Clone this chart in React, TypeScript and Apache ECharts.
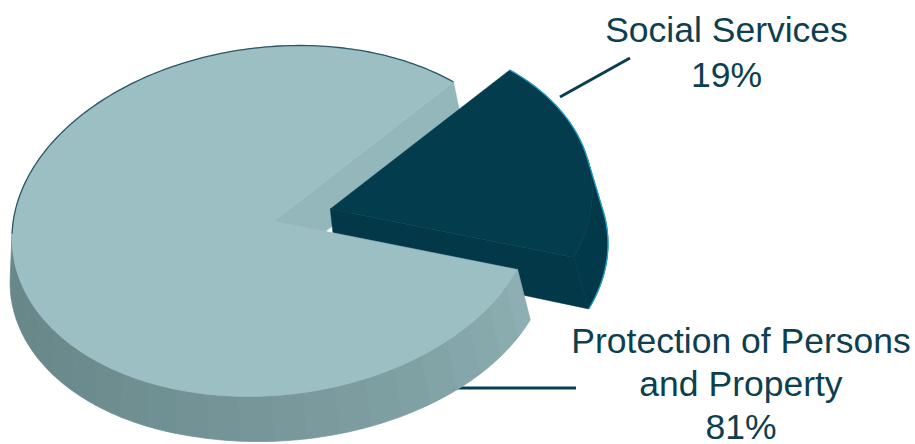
import React, { useEffect, useRef } from "react";
import * as echarts from "echarts";

// ---- data ----
const categories = ["Social Services", "Protection of Persons and Property"];
const labelText = ["Social Services", "Protection of Persons\nand Property"];
const values = [19, 81];

// ---- styling / layout (not data) ----
const TOP_COLORS = ["#023C4D", "#9BBFC2"];
const FACE_COLORS = ["#023847", "#93B7BB"];
const SIDE_DARK = ["#02394A", "#678789"];
const SIDE_LIGHT = ["#02394A", "#93B4B8"];
const OUTLINE = ["#1E9FC8", "#2A5866"];
const SIDE_EDGE = [true, false];
const TEXT_COLOR = "#0D3F4F";
const LEADER_COLOR = "#063F50";
const LAYERS = [
  { face: 12, side: 10, top: 14 },
  { face: 5, side: 20, top: 22 },
];
const CX = 274;
const CY = 221;
const M = [261.8, -10.31, -10.31, 175.2];
const DET = M[0] * M[3] - M[1] * M[2];
const MI = [M[3] / DET, -M[1] / DET, -M[2] / DET, M[0] / DET];
const START_DEG = -49;
const EXPLODE = [0.22, 0];
const BAND_DEG = [720, 7];
const LABEL_POS = [
  [726.5, 52],
  [741, 384],
];
const LABEL_LH = [45, 43];
const LEADERS = [
  [560, 97, 630, 58],
  [441, 388, 576, 388],
];

type Pt = [number, number];

const toScreen = (px: number, py: number): Pt => [
  CX + M[0] * px + M[1] * py,
  CY + M[2] * px + M[3] * py,
];
const depthAt = (p: Pt): Pt => [
  p[0] > 200 ? 0.04 * (p[0] - 200) : 0.01 * (p[0] - 200),
  44 + Math.max(0, 0.02 * (p[0] - 200)),
];
const hexRgb = (h: string) => [
  parseInt(h.slice(1, 3), 16),
  parseInt(h.slice(3, 5), 16),
  parseInt(h.slice(5, 7), 16),
];
const mix = (a: string, b: string, f: number) => {
  const A = hexRgb(a);
  const B = hexRgb(b);
  const c = A.map((v, k) => Math.round(v + (B[k] - v) * f));
  return `rgb(${c[0]},${c[1]},${c[2]})`;
};
const add = (p: Pt, d: Pt): Pt => [p[0] + d[0], p[1] + d[1]];

function renderItem(params: any, _api: any) {
  const i = params.dataIndex;
  const total = values.reduce((a, b) => a + b, 0);
  let before = 0;
  for (let k = 0; k < i; k++) before += values[k];
  const a0 = START_DEG + (360 * before) / total;
  const a1 = a0 + (360 * values[i]) / total;
  const midR = (((a0 + a1) / 2) * Math.PI) / 180;
  const ox = EXPLODE[i] * Math.cos(midR);
  const oy = EXPLODE[i] * Math.sin(midR);
  const P = (deg: number, r: number): Pt => {
    const t = (deg * Math.PI) / 180;
    return toScreen(r * Math.cos(t) + ox, r * Math.sin(t) + oy);
  };
  const L = LAYERS[i];
  const children: any[] = [];
  const apex = P(0, 0);

  const n = Math.max(2, Math.ceil(a1 - a0));
  const arc: Pt[] = [];
  const angs: number[] = [];
  for (let k = 0; k <= n; k++) {
    const a = a0 + ((a1 - a0) * k) / n;
    angs.push(a);
    arc.push(P(a, 1));
  }

  // visibility of the outer side per segment
  const vis: boolean[] = [];
  for (let k = 0; k < n; k++) {
    const p1 = arc[k];
    const p2 = arc[k + 1];
    const m: Pt = [(p1[0] + p2[0]) / 2, (p1[1] + p2[1]) / 2];
    const d = depthAt(m);
    const tx = p2[0] - p1[0];
    const ty = p2[1] - p1[1];
    vis.push(ty * d[0] - tx * d[1] > 0);
  }

  // outer side, merged into shading bands
  const shadeFor = (deg: number) => {
    const am = (deg * Math.PI) / 180;
    const nx0 = MI[0] * Math.cos(am) + MI[2] * Math.sin(am);
    const ny0 = MI[1] * Math.cos(am) + MI[3] * Math.sin(am);
    const nx = nx0 / Math.hypot(nx0, ny0);
    const f = Math.pow((nx + 1) / 2, 1.6);
    return mix(SIDE_DARK[i], SIDE_LIGHT[i], f);
  };
  let k = 0;
  while (k < n) {
    if (!vis[k]) {
      k++;
      continue;
    }
    const band = Math.floor((angs[k] + 360) / BAND_DEG[i]);
    const startK = k;
    while (k < n && vis[k] && Math.floor((angs[k] + 360) / BAND_DEG[i]) === band) k++;
    const tops = arc.slice(startK, k + 1);
    const bots = tops.map((p) => add(p, depthAt(p))).reverse();
    const col = shadeFor((angs[startK] + angs[k]) / 2);
    children.push({
      type: "polygon",
      z2: L.side,
      shape: { points: [...tops, ...bots] },
      style: { fill: col, stroke: col, lineWidth: 0.8 },
    });
  }

  // radial faces
  const edges: [number, number][] = [
    [a0, a0 - 90],
    [a1, a1 + 90],
  ];
  for (const [ea, na] of edges) {
    const nr = (na * Math.PI) / 180;
    const nX = MI[0] * Math.cos(nr) + MI[2] * Math.sin(nr);
    const nY = MI[1] * Math.cos(nr) + MI[3] * Math.sin(nr);
    const dA = depthAt(apex);
    if (nX * dA[0] + nY * dA[1] <= 0) continue;
    const e = P(ea, 1);
    children.push({
      type: "polygon",
      z2: L.face,
      shape: { points: [apex, e, add(e, depthAt(e)), add(apex, dA)] },
      style: { fill: FACE_COLORS[i], stroke: FACE_COLORS[i], lineWidth: 0.5 },
    });
  }

  // top face
  children.push({
    type: "polygon",
    z2: L.top,
    shape: { points: [apex, ...arc] },
    style: { fill: TOP_COLORS[i], stroke: TOP_COLORS[i], lineWidth: 0.5 },
  });

  // outlines: back arc + (optionally) bottom edge of visible side
  let run: Pt[] = [];
  const flush = () => {
    if (run.length > 1)
      children.push({
        type: "polyline",
        z2: L.top + 1,
        shape: { points: run },
        style: { stroke: OUTLINE[i], lineWidth: 1.3, fill: null },
      });
    run = [];
  };
  for (let s = 0; s < n; s++) {
    if (!vis[s]) {
      if (!run.length) run.push(arc[s]);
      run.push(arc[s + 1]);
    } else if (SIDE_EDGE[i]) {
      if (!run.length) run.push(arc[s]);
      if (run.length === 1 || vis[s - 1] === false) run.push(add(arc[s], depthAt(arc[s])));
      run.push(add(arc[s + 1], depthAt(arc[s + 1])));
    } else {
      flush();
    }
  }
  flush();

  // label + leader
  const pct = Math.round((values[i] / total) * 100);
  const ld = LEADERS[i];
  children.push({
    type: "line",
    z2: 3,
    shape: { x1: ld[0], y1: ld[1], x2: ld[2], y2: ld[3] },
    style: { stroke: LEADER_COLOR, lineWidth: 3 },
  });
  children.push({
    type: "text",
    z2: 40,
    style: {
      text: `${labelText[i]}\n${pct}%`,
      x: LABEL_POS[i][0],
      y: LABEL_POS[i][1],
      fill: TEXT_COLOR,
      fontSize: 35.5,
      fontFamily: "Liberation Sans, Arial, sans-serif",
      align: "center",
      verticalAlign: "middle",
      lineHeight: LABEL_LH[i],
    },
  });

  return { type: "group", children };
}

export default function App() {
  const ref = useRef<HTMLDivElement>(null);
  useEffect(() => {
    if (!ref.current) return;
    const chart = echarts.init(ref.current, undefined, { renderer: "svg" });
    chart.setOption({
      animation: false,
      backgroundColor: "#ffffff",
      series: [
        {
          type: "custom",
          coordinateSystem: "none",
          silent: true,
          renderItem,
          data: values.map((v, k) => ({ name: categories[k], value: v })),
        },
      ],
    });
    return () => chart.dispose();
  }, []);
  return (
    <div
      ref={ref}
      style={{ position: "fixed", left: 0, top: 0, width: 915, height: 444 }}
    />
  );
}
